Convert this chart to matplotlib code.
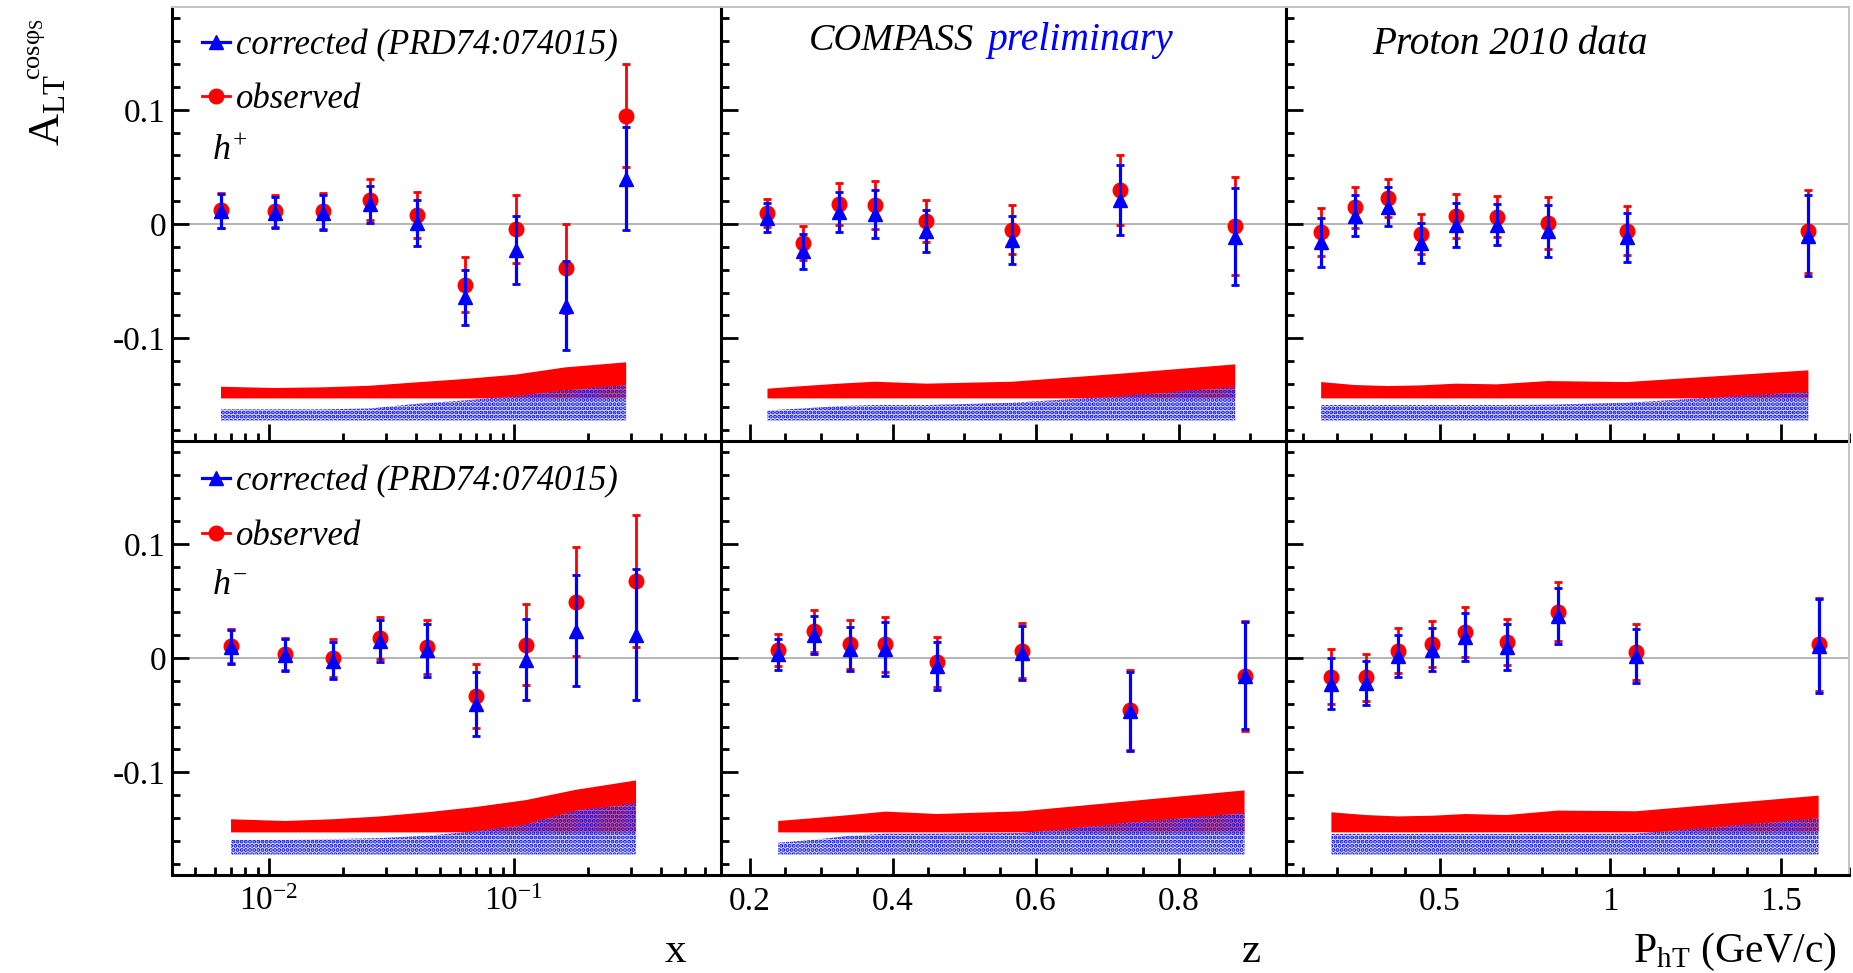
import numpy as np
import matplotlib
matplotlib.use('Agg')
import matplotlib.pyplot as plt
from matplotlib.lines import Line2D
from matplotlib.font_manager import FontProperties
from matplotlib.ticker import (LogLocator, MultipleLocator, NullFormatter,
                               FixedLocator, FuncFormatter, LogFormatterMathtext)

plt.rcParams['font.family'] = ['Liberation Serif', 'DejaVu Serif']
plt.rcParams['mathtext.fontset'] = 'custom'
plt.rcParams['mathtext.rm'] = 'Liberation Serif'
plt.rcParams['mathtext.it'] = 'Liberation Serif:italic'
plt.rcParams['mathtext.bf'] = 'Liberation Serif:bold'
plt.rcParams['axes.unicode_minus'] = False
plt.rcParams['hatch.color'] = 'blue'
plt.rcParams['hatch.linewidth'] = 2.0

# ---------------- data ----------------
# x dependence, h+
x_hp = [0.00637, 0.01057, 0.01663, 0.0259, 0.0402, 0.0631, 0.1015, 0.1626, 0.287]
obs_x_hp = [0.0120, 0.0114, 0.0114, 0.0214, 0.0076, -0.0530, -0.0041, -0.0387, 0.0949]
obs_x_hp_err = [0.0152, 0.0139, 0.0158, 0.0180, 0.0200, 0.0240, 0.0297, 0.0390, 0.0448]
cor_x_hp = [0.0114, 0.0100, 0.0100, 0.0173, 0.0009, -0.0641, -0.0225, -0.0714, 0.0398]
cor_x_hp_err = [0.0152, 0.0135, 0.0151, 0.0164, 0.0205, 0.0240, 0.0297, 0.0387, 0.0454]
sys_obs_x_hp = [0.0102, 0.0091, 0.0097, 0.0111, 0.0141, 0.0170, 0.0208, 0.0272, 0.0316]
sys_cor_x_hp = [0.0097, 0.0097, 0.0097, 0.0105, 0.0146, 0.0176, 0.0214, 0.0264, 0.0310]

# x dependence, h-
x_hm = [0.0070, 0.0116, 0.0182, 0.0284, 0.0441, 0.0697, 0.112, 0.179, 0.315]
obs_x_hm = [0.0106, 0.0036, 0.0000, 0.0173, 0.0097, -0.0334, 0.0118, 0.0492, 0.0674]
obs_x_hm_err = [0.0152, 0.0143, 0.0162, 0.0185, 0.0240, 0.0278, 0.0357, 0.0478, 0.0580]
cor_x_hm = [0.0097, 0.0027, -0.0024, 0.0149, 0.0067, -0.0404, -0.0015, 0.0240, 0.0203]
cor_x_hm_err = [0.0152, 0.0143, 0.0162, 0.0182, 0.0232, 0.0282, 0.0357, 0.0483, 0.0575]
sys_obs_x_hm = [0.0115, 0.0100, 0.0115, 0.0140, 0.0176, 0.0222, 0.0283, 0.0373, 0.0455]
sys_cor_x_hm = [0.0127, 0.0127, 0.0134, 0.0143, 0.0164, 0.0203, 0.0264, 0.0385, 0.0446]

# z dependence, h+
z_hp = [0.225, 0.275, 0.325, 0.375, 0.447, 0.567, 0.718, 0.879]
obs_z_hp = [0.0099, -0.0167, 0.0175, 0.0167, 0.0029, -0.0050, 0.0298, -0.0018]
obs_z_hp_err = [0.0124, 0.0152, 0.0181, 0.0212, 0.0183, 0.0212, 0.0309, 0.0430]
cor_z_hp = [0.0053, -0.0240, 0.0102, 0.0088, -0.0058, -0.0140, 0.0211, -0.0111]
cor_z_hp_err = [0.0127, 0.0151, 0.0175, 0.0212, 0.0184, 0.0212, 0.0308, 0.0425]
sys_obs_z_hp = [0.0085, 0.0108, 0.0129, 0.0146, 0.0129, 0.0146, 0.0216, 0.0298]
sys_cor_z_hp = [0.0088, 0.0105, 0.0126, 0.0135, 0.0135, 0.0155, 0.0213, 0.0292]

# z dependence, h-
z_hm = [0.240, 0.290, 0.340, 0.390, 0.462, 0.581, 0.732, 0.892]
obs_z_hm = [0.0070, 0.0237, 0.0119, 0.0119, -0.0036, 0.0064, -0.0453, -0.0158]
obs_z_hm_err = [0.0144, 0.0182, 0.0211, 0.0239, 0.0216, 0.0240, 0.0350, 0.0482]
cor_z_hm = [0.0033, 0.0201, 0.0079, 0.0079, -0.0067, 0.0043, -0.0468, -0.0155]
cor_z_hm_err = [0.0137, 0.0164, 0.0193, 0.0233, 0.0210, 0.0236, 0.0347, 0.0468]
sys_obs_z_hm = [0.0100, 0.0125, 0.0152, 0.0182, 0.0161, 0.0185, 0.0274, 0.0368]
sys_cor_z_hm = [0.0103, 0.0128, 0.0164, 0.0182, 0.0182, 0.0188, 0.0280, 0.0362]

# PhT dependence, h+
pt_hp = [0.153, 0.251, 0.349, 0.447, 0.547, 0.667, 0.817, 1.048, 1.581]
obs_pt_hp = [-0.0073, 0.0146, 0.0228, -0.0088, 0.0067, 0.0064, 0.0009, -0.0058, -0.0064]
obs_pt_hp_err = [0.0209, 0.0178, 0.0168, 0.0172, 0.0193, 0.0180, 0.0227, 0.0212, 0.0361]
cor_pt_hp = [-0.0161, 0.0073, 0.0152, -0.0170, -0.0006, -0.0006, -0.0058, -0.0117, -0.0102]
cor_pt_hp_err = [0.0212, 0.0177, 0.0168, 0.0175, 0.0192, 0.0180, 0.0227, 0.0215, 0.0357]
sys_obs_pt_hp = [0.0143, 0.0117, 0.0108, 0.0114, 0.0129, 0.0123, 0.0152, 0.0143, 0.0246]
sys_cor_pt_hp = [0.0135, 0.0135, 0.0135, 0.0135, 0.0135, 0.0135, 0.0138, 0.0155, 0.0251]

# PhT dependence, h-
pt_hm = [0.183, 0.283, 0.378, 0.478, 0.576, 0.697, 0.846, 1.076, 1.611]
obs_pt_hm = [-0.0164, -0.0170, 0.0064, 0.0119, 0.0225, 0.0140, 0.0407, 0.0049, 0.0119]
obs_pt_hm_err = [0.0243, 0.0205, 0.0195, 0.0201, 0.0220, 0.0205, 0.0258, 0.0245, 0.0410]
cor_pt_hm = [-0.0225, -0.0219, 0.0018, 0.0073, 0.0185, 0.0094, 0.0368, 0.0018, 0.0103]
cor_pt_hm_err = [0.0223, 0.0190, 0.0182, 0.0187, 0.0208, 0.0202, 0.0248, 0.0236, 0.0410]
sys_obs_pt_hm = [0.0176, 0.0152, 0.0140, 0.0146, 0.0161, 0.0152, 0.0191, 0.0185, 0.0322]
sys_cor_pt_hm = [0.0179, 0.0179, 0.0179, 0.0179, 0.0179, 0.0179, 0.0179, 0.0182, 0.0316]

# baselines of the systematic bands
sys_obs_base = -0.1527
sys_cor_base = -0.1720

y_range = (-0.19, 0.19)
x_ranges = [(0.004, 0.7), (0.16, 0.95), (0.05, 1.7)]
legend_labels = ['corrected (PRD74:074015)', 'observed']
hadron_labels = [r'$h^{+}$', r'$h^{-}$']

# ---------------- figure ----------------
W, H = 1853, 973
fig = plt.figure(figsize=(W / 100, H / 100), dpi=100)

cols = [(171.5, 721), (721, 1286), (1286, 1849)]
rows = [(7, 441), (441, 875)]

panels = [
    [(x_hp, obs_x_hp, obs_x_hp_err, cor_x_hp, cor_x_hp_err, sys_obs_x_hp, sys_cor_x_hp),
     (z_hp, obs_z_hp, obs_z_hp_err, cor_z_hp, cor_z_hp_err, sys_obs_z_hp, sys_cor_z_hp),
     (pt_hp, obs_pt_hp, obs_pt_hp_err, cor_pt_hp, cor_pt_hp_err, sys_obs_pt_hp, sys_cor_pt_hp)],
    [(x_hm, obs_x_hm, obs_x_hm_err, cor_x_hm, cor_x_hm_err, sys_obs_x_hm, sys_cor_x_hm),
     (z_hm, obs_z_hm, obs_z_hm_err, cor_z_hm, cor_z_hm_err, sys_obs_z_hm, sys_cor_z_hm),
     (pt_hm, obs_pt_hm, obs_pt_hm_err, cor_pt_hm, cor_pt_hm_err, sys_obs_pt_hm, sys_cor_pt_hm)],
]

gfmt = FuncFormatter(lambda v, p: '%g' % round(v, 6))
leg_font = FontProperties(family='Liberation Serif', style='italic', size=25)

for r, (y0, y1) in enumerate(rows):
    for c, (x0, x1) in enumerate(cols):
        ax = fig.add_axes([x0 / W, 1 - y1 / H, (x1 - x0) / W, (y1 - y0) / H])
        xs, obs, obs_e, cor, cor_e, s_obs, s_cor = panels[r][c]
        xs = np.array(xs)

        # systematic bands
        ax.fill_between(xs, sys_obs_base, sys_obs_base + np.array(s_obs),
                        facecolor='#ff0000', edgecolor='none', linewidth=0, zorder=1)
        ax.fill_between(xs, sys_cor_base, sys_cor_base + np.array(s_cor),
                        facecolor=(0.78, 0.82, 1.0, 0.45), edgecolor='#0000ee',
                        hatch='....', linewidth=0, zorder=2)

        ax.axhline(0, color='#a8a8a8', lw=1.2, zorder=1.5)

        ax.errorbar(xs, obs, yerr=obs_e, fmt='o', color='red', ms=10.5,
                    elinewidth=2.0, capsize=3, capthick=2.0, zorder=3)
        ax.errorbar(xs, cor, yerr=cor_e, fmt='^', color='blue', ms=10,
                    elinewidth=2.3, capsize=3, capthick=2.0, zorder=4)

        ax.set_ylim(*y_range)
        ax.set_xlim(*x_ranges[c])
        if c == 0:
            ax.set_xscale('log')
            ax.xaxis.set_major_locator(LogLocator(base=10))
            ax.xaxis.set_minor_locator(LogLocator(base=10, subs=np.arange(2, 10)))
            ax.xaxis.set_major_formatter(LogFormatterMathtext())
            ax.xaxis.set_minor_formatter(NullFormatter())
        elif c == 1:
            ax.xaxis.set_major_locator(MultipleLocator(0.2))
            ax.xaxis.set_minor_locator(MultipleLocator(0.05))
            ax.xaxis.set_major_formatter(gfmt)
        else:
            ax.xaxis.set_major_locator(MultipleLocator(0.5))
            ax.xaxis.set_minor_locator(MultipleLocator(0.1))
            ax.xaxis.set_major_formatter(gfmt)

        ax.yaxis.set_major_locator(FixedLocator([-0.1, 0.0, 0.1]))
        ax.yaxis.set_minor_locator(MultipleLocator(0.02))
        ax.yaxis.set_major_formatter(gfmt)

        ax.tick_params(which='major', direction='in', length=12, width=2.0,
                       top=False, right=False, labelsize=24, color='black')
        ax.tick_params(axis='x', which='major', pad=8)
        ax.tick_params(axis='y', which='major', pad=4)
        ax.tick_params(which='minor', direction='in', length=6, width=2.0,
                       top=False, right=False)
        ax.tick_params(labelbottom=(r == 1), labelleft=(c == 0))

        for side in ['left', 'bottom']:
            ax.spines[side].set_linewidth(2.2)
            ax.spines[side].set_color('black')
        ax.spines['top'].set_visible(r == 0)
        ax.spines['top'].set_color('#c4c4c4')
        ax.spines['top'].set_linewidth(1.4)
        ax.spines['right'].set_visible(c == 2)
        ax.spines['right'].set_color('#c4c4c4')
        ax.spines['right'].set_linewidth(1.4)
        ax.patch.set_alpha(0)

        if c == 0:
            handles = [Line2D([], [], color='blue', marker='^', ms=10, lw=2.3),
                       Line2D([], [], color='red', marker='o', ms=10.5, lw=2.0)]
            ax.legend(handles, legend_labels, loc='upper left',
                      bbox_to_anchor=(0.055, 0.95 - 0.006 * r), frameon=False,
                      handlelength=0.8, handletextpad=0.2, labelspacing=0.62,
                      borderpad=0, borderaxespad=0, prop=leg_font)
            ax.text(0.073, 0.668, hadron_labels[r], transform=ax.transAxes,
                    fontsize=26, ha='left', va='center')

# titles
fig.text(809 / W, 1 - 50 / H, 'COMPASS', fontsize=27.5, style='italic',
         color='black', ha='left', va='baseline')
fig.text(987 / W, 1 - 50 / H, 'preliminary', fontsize=28.5, style='italic',
         color='blue', ha='left', va='baseline')
fig.text(1372 / W, 1 - 54 / H, 'Proton 2010 data', fontsize=28.3, style='italic',
         color='black', ha='left', va='baseline')

# y-axis title: A_LT with the cos(phi_S) superscript after it
fig.text(48 / W, 1 - 146 / H, r'$\mathrm{A}_{\mathrm{LT}}$',
         rotation=90, fontsize=32, ha='center', va='bottom')
fig.text(36 / W, 1 - 80 / H, r'$\mathrm{cos\varphi_{S}}$',
         rotation=90, fontsize=19, ha='center', va='bottom')

# x-axis titles
fig.text(675 / W, 1 - 962 / H, 'x', fontsize=31, ha='center', va='baseline')
fig.text(1251 / W, 1 - 962 / H, 'z', fontsize=31, ha='center', va='baseline')
fig.text(1837 / W, 1 - 962 / H, r'$\mathrm{P}_{\mathrm{hT}}$ (GeV/c)',
         fontsize=30, ha='right', va='baseline')

fig.savefig('out.png', dpi=100)
